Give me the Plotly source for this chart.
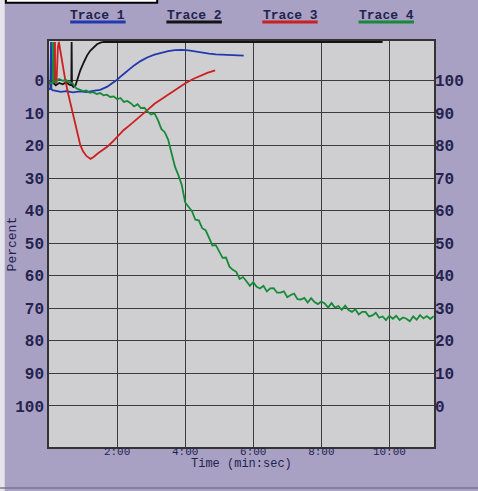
import plotly.graph_objects as go

# ---------------- data (x in minutes, y in left-axis "Percent", 0 at top) ----------------
trace1_x = [0.0, 0.04, 0.06, 0.07, 0.1, 0.2, 0.35, 0.5, 0.7, 0.9, 1.1, 1.3, 1.5, 1.7, 1.85,
            2.0, 2.15, 2.3, 2.5, 2.7, 2.9, 3.1, 3.3, 3.5, 3.7, 3.9, 4.1, 4.3, 4.5, 4.7,
            4.9, 5.1, 5.3, 5.5, 5.72]
trace1_y = [2.5, 2.8, -11.8, 2.6, 3.0, 3.2, 3.5, 3.3, 3.7, 3.4, 3.6, 3.2, 2.9, 2.0, 1.0,
            -0.2, -1.6, -3.0, -4.6, -6.0, -7.1, -7.9, -8.5, -9.0, -9.3, -9.4, -9.2, -8.8, -8.4, -8.2,
            -8.0, -7.9, -7.8, -7.7, -7.6]

trace2_x = [0.0, 0.1, 0.2, 0.3, 0.4, 0.5, 0.6, 0.655, 0.665, 0.675, 0.72, 0.78, 0.85, 0.92,
            1.02, 1.12, 1.21, 1.31, 1.41, 1.51, 1.6, 9.8]
trace2_y = [1.0, 0.5, 1.5, 0.8, 1.2, 0.6, 1.3, 1.5, -11.8, 1.5, 2.0, 1.5, -0.8, -3.1,
            -5.5, -7.7, -9.1, -10.2, -11.1, -11.6, -11.8, -11.8]

trace3_x = [0.0, 0.08, 0.15, 0.17, 0.175, 0.18, 0.22, 0.26, 0.29, 0.33, 0.40, 0.48, 0.55,
            0.63, 0.70, 0.78, 0.85, 0.92, 1.0, 1.1, 1.22, 1.3, 1.45, 1.6, 1.71, 1.85, 2.0,
            2.19, 2.4, 2.6, 2.88, 3.1, 3.3, 3.5, 3.66, 3.85, 4.05, 4.25, 4.45, 4.65, 4.88]
trace3_y = [0.5, 0.8, 0.3, 0.6, -11.8, 0.6, 0.9, -10.0, -11.8, -9.0, -4.5, 0.0, 3.5,
            7.1, 10.8, 14.3, 17.3, 19.9, 21.8, 23.2, 24.1, 23.6, 22.3, 21.2, 20.4, 19.0, 17.3,
            15.3, 13.5, 11.6, 9.2, 7.2, 5.8, 4.3, 3.1, 1.8, 0.6, -0.5, -1.5, -2.3, -3.1]

trace4_x = [0.0, 0.06, 0.11, 0.12, 0.13, 0.2, 0.3, 0.4, 0.5, 0.6, 0.7, 0.8, 0.9, 1.0,
            1.1, 1.2, 1.3, 1.4, 1.5, 1.6, 1.7, 1.8, 1.9, 2.0, 2.1, 2.2, 2.3, 2.4, 2.5,
            2.6, 2.7, 2.8, 2.9, 3.0, 3.1, 3.2, 3.3, 3.4, 3.5, 3.6, 3.7, 3.8, 3.9, 4.0,
            4.1, 4.2, 4.3, 4.4, 4.5, 4.6, 4.7, 4.8, 4.9, 5.0, 5.1, 5.2, 5.3, 5.4, 5.5,
            5.6, 5.7, 5.8, 5.9, 6.0, 6.1, 6.2, 6.3, 6.4, 6.5, 6.6, 6.7, 6.8, 6.9, 7.0,
            7.1, 7.2, 7.3, 7.4, 7.5, 7.6, 7.7, 7.8, 7.9, 8.0, 8.1, 8.2, 8.3, 8.4, 8.5,
            8.6, 8.7, 8.8, 8.9, 9.0, 9.1, 9.2, 9.3, 9.4, 9.5, 9.6, 9.7, 9.8, 9.9, 10.0,
            10.1, 10.2, 10.3, 10.4, 10.5, 10.6, 10.7, 10.8, 10.9, 11.0, 11.1, 11.2, 11.3]
trace4_y = [1.0, 0.7, 0.9, -11.8, 0.6, 0.3, -0.4, 0.1, -0.1, 0.6, 1.0, 2.4, 2.9, 3.3,
            3.1, 3.8, 3.6, 4.2, 3.9, 4.6, 4.4, 5.1, 4.9, 5.8, 5.4, 6.6, 6.3, 7.0, 8.0,
            7.3, 8.5, 8.4, 9.6, 10.5, 10.1, 12.2, 14.9, 15.9, 18.2, 22.8, 26.5, 29.1, 32.1, 37.5,
            39.0, 40.2, 42.8, 43.0, 45.4, 46.0, 48.3, 50.7, 50.6, 52.6, 54.5, 54.4, 57.2, 58.2, 58.8,
            61.0, 60.4, 61.7, 63.1, 62.0, 63.4, 63.9, 63.1, 64.8, 63.9, 63.8, 65.2, 65.2, 64.8, 66.6,
            65.9, 65.5, 67.2, 67.3, 66.8, 68.2, 66.9, 68.1, 68.7, 67.9, 68.5, 69.8, 68.4, 69.8, 69.3,
            70.5, 69.2, 70.5, 71.1, 70.3, 71.9, 71.1, 71.1, 72.5, 72.2, 71.4, 72.9, 72.5, 73.6, 72.3,
            73.2, 72.3, 73.6, 72.8, 73.2, 74.0, 72.5, 73.5, 72.1, 73.1, 72.4, 73.3, 72.4]

trace_names = ["Trace 1", "Trace 2", "Trace 3", "Trace 4"]
trace_colors = ["#2238b0", "#141414", "#cc1f1f", "#178a38"]

x_tick_vals = [2, 4, 6, 8, 10]
x_tick_text = ["2:00", "4:00", "6:00", "8:00", "10:00"]
y_tick_vals = [0, 10, 20, 30, 40, 50, 60, 70, 80, 90, 100]
y2_tick_vals = [0, 10, 20, 30, 40, 50, 60, 70, 80, 90, 100]

# ---------------- figure ----------------
MONO = "Liberation Mono"
TXT = "#23234e"
xs = [trace1_x, trace2_x, trace3_x, trace4_x]
ys = [trace1_y, trace2_y, trace3_y, trace4_y]

fig = go.Figure()
for name, color, x, y in zip(trace_names, trace_colors, xs, ys):
    fig.add_trace(go.Scatter(x=x, y=y, mode="lines", name=name,
                             line=dict(color=color, width=1.8), showlegend=False))
# empty trace so the right-hand (100 - Percent) axis is drawn
fig.add_trace(go.Scatter(x=[], y=[], yaxis="y2", showlegend=False, hoverinfo="skip"))

grid = "#3c3c3c"
fig.update_layout(
    width=478, height=491,
    margin=dict(l=49, r=44, t=41, b=44),
    paper_bgcolor="#a9a1c4",
    plot_bgcolor="#cfcfd1",
    xaxis=dict(range=[0, 11.31], tickvals=x_tick_vals, ticktext=x_tick_text,
               showgrid=True, gridcolor=grid, gridwidth=1.3, zeroline=False,
               showline=True, mirror=True, linecolor="#333333", linewidth=1.5,
               ticks="", ticklabelstandoff=-7,
               tickfont=dict(family=MONO, size=11, color=TXT)),
    yaxis=dict(range=[112.6, -12.1], tickvals=y_tick_vals,
               showgrid=True, gridcolor=grid, gridwidth=1.3, zeroline=False,
               showline=True, mirror=True, linecolor="#333333", linewidth=1.5,
               ticks="", tickfont=dict(family=MONO, size=16, color=TXT, weight="bold")),
    yaxis2=dict(range=[-12.6, 112.1], tickvals=y2_tick_vals, overlaying="y", side="right",
                anchor="x", showgrid=False, zeroline=False, showline=False, ticks="",
                tickfont=dict(family=MONO, size=16, color=TXT, weight="bold")),
    font=dict(family=MONO, color=TXT),
)

# axis titles as annotations (positions)
fig.add_annotation(text="Time (min:sec)", xref="paper", yref="paper", x=0.5, y=-0.0415,
                   xanchor="center", yanchor="middle", showarrow=False,
                   font=dict(family=MONO, size=12, color=TXT))
fig.add_annotation(text="Percent", xref="paper", yref="paper", x=-0.095, y=0.5,
                   xanchor="center", yanchor="middle", textangle=-90, showarrow=False,
                   font=dict(family=MONO, size=13, color=TXT))

# legend: underlined labels above the plot
leg_x = [0.127, 0.377, 0.626, 0.876]
for name, color, lx in zip(trace_names, trace_colors, leg_x):
    fig.add_annotation(text="<b>" + name + "</b>", xref="paper", yref="paper", x=lx, y=1.062,
                       xanchor="center", yanchor="middle", showarrow=False,
                       font=dict(family=MONO, size=13, color=TXT))
    fig.add_shape(type="line", xref="paper", yref="paper", x0=lx - 0.072, x1=lx + 0.072,
                  y0=1.047, y1=1.047, line=dict(color=color, width=3))

# scan artefacts: white box top-left, bottom rule, white left strip
fig.add_shape(type="rect", xref="paper", yref="paper", x0=-0.112, x1=0.281, y0=1.094, y1=1.11,
              fillcolor="white", line=dict(color="black", width=2))
fig.add_shape(type="line", xref="paper", yref="paper", x0=-0.127, x1=1.115, y0=-0.101, y1=-0.101,
              line=dict(color="#7a7490", width=1.5))
fig.add_shape(type="rect", xref="paper", yref="paper", x0=-0.13, x1=-0.115, y0=-0.12, y1=1.11,
              fillcolor="#e4e4ea", line=dict(width=0), layer="below")

fig.write_html("out.html", config={"displayModeBar": False},
               post_script="document.body.style.margin='0';document.body.style.overflow='hidden';")
